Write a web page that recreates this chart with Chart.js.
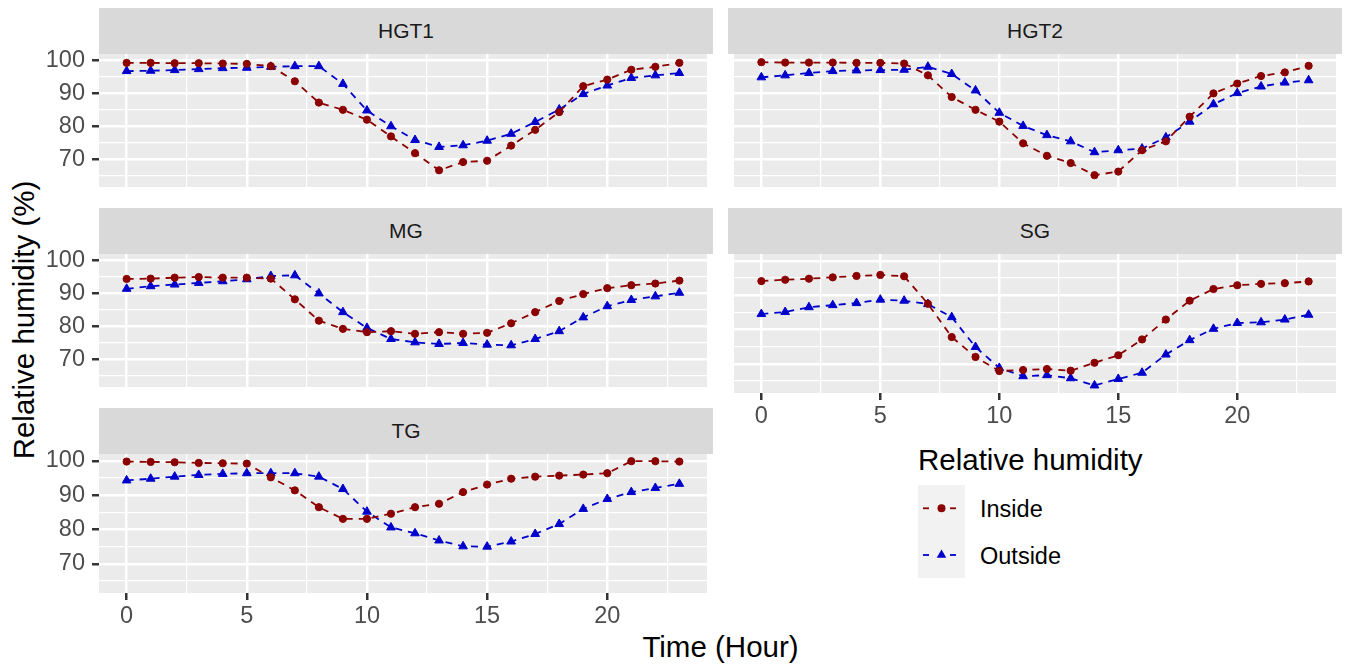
<!DOCTYPE html>
<html>
<head>
<meta charset="utf-8">
<script src="https://cdn.jsdelivr.net/npm/chart.js"></script>
<style>
  body { margin: 0; background: #fff; width: 1346px; height: 664px; overflow: hidden; position: relative;
         font-family: "Liberation Sans", Arial, sans-serif; }
  canvas { position: absolute; }
  .strip { position: absolute; background: #D9D9D9; color: #1A1A1A; font-size: 21px;
           display: flex; align-items: center; justify-content: center; }
  .txt { position: absolute; white-space: nowrap; color: #000; }
  .keys { position: absolute; background: #F2F2F2; }
</style>
</head>
<body>
<div class="txt" style="left:0; top:305px; width:48px; height:30px;">
  <div style="position:absolute; left:24px; top:15px; transform:translate(-50%,-50%) rotate(-90deg); font-size:29.5px; line-height:30px;">Relative humidity (%)</div>
</div>
<div class="txt" style="left:520px; top:632px; width:401px; text-align:center; font-size:29.5px; line-height:30px;">Time (Hour)</div>

<div class="txt" style="left:918px; top:445px; font-size:29.5px; line-height:30px;">Relative humidity</div>
<div class="keys" style="left:918px; top:485px; width:47px; height:93px;">
  <svg width="47" height="93">
    <line x1="5" y1="23.3" x2="11" y2="23.3" stroke="#8B0000" stroke-width="1.8"/>
    <line x1="32" y1="23.3" x2="38" y2="23.3" stroke="#8B0000" stroke-width="1.8"/>
    <circle cx="23.5" cy="23.3" r="4" fill="#8B0000"/>
    <line x1="5" y1="70" x2="11" y2="70" stroke="#0000CD" stroke-width="1.8"/>
    <line x1="32" y1="70" x2="38" y2="70" stroke="#0000CD" stroke-width="1.8"/>
    <polygon points="23.5,64.5 28.3,72.8 18.7,72.8" fill="#0000CD"/>
  </svg>
</div>
<div class="txt" style="left:980px; top:497px; font-size:23.5px; line-height:24px;">Inside</div>
<div class="txt" style="left:980px; top:544px; font-size:23.5px; line-height:24px;">Outside</div>

<script>
// hourly relative humidity (%) per greenhouse
const hours = [0, 1, 2, 3, 4, 5, 6, 7, 8, 9, 10, 11, 12, 13, 14, 15, 16, 17, 18, 19, 20, 21, 22, 23];

const hgt1Inside  = [99.3, 99.3, 99.2, 99.2, 99.1, 99.0, 98.3, 93.7, 87.2, 85.0, 82.0, 76.9, 71.8, 66.6, 69.1, 69.5, 74.1, 78.9, 84.3, 92.2, 94.2, 97.2, 98.1, 99.3];
const hgt1Outside = [96.8, 96.9, 97.1, 97.4, 97.7, 97.8, 98.1, 98.3, 98.3, 92.9, 84.8, 80.0, 75.8, 73.7, 74.2, 75.6, 77.7, 81.3, 85.1, 89.8, 92.4, 94.7, 95.5, 96.2];

const hgt2Inside  = [99.5, 99.4, 99.4, 99.4, 99.3, 99.3, 99.1, 95.5, 88.9, 85.0, 81.4, 74.8, 71.0, 68.8, 65.1, 66.2, 72.7, 75.4, 82.9, 90.0, 93.0, 95.3, 96.4, 98.4];
const hgt2Outside = [94.9, 95.5, 96.2, 96.8, 97.0, 97.1, 97.2, 98.1, 95.9, 90.9, 84.1, 80.1, 77.3, 75.4, 72.1, 72.7, 73.2, 76.6, 81.4, 86.7, 90.1, 92.1, 93.3, 94.0];

const mgInside  = [94.4, 94.5, 94.8, 95.0, 94.8, 94.8, 94.5, 88.2, 81.7, 79.2, 78.2, 78.5, 77.7, 78.2, 77.7, 78.0, 80.9, 84.3, 87.7, 89.8, 91.6, 92.5, 93.0, 93.9];
const mgOutside = [91.4, 92.2, 92.7, 93.2, 93.7, 94.3, 95.3, 95.5, 90.0, 84.3, 79.5, 76.1, 75.1, 74.6, 74.9, 74.4, 74.2, 76.1, 78.5, 82.7, 86.1, 88.0, 89.1, 90.2];

const sgInside  = [94.1, 94.5, 94.8, 95.2, 95.6, 95.9, 95.5, 87.5, 77.8, 72.0, 67.9, 68.2, 68.5, 68.0, 70.3, 72.5, 77.1, 82.9, 88.4, 91.8, 92.9, 93.3, 93.5, 94.0];
const sgOutside = [84.5, 85.1, 86.5, 87.1, 87.7, 88.7, 88.4, 87.4, 83.6, 74.9, 68.8, 66.4, 66.7, 65.8, 63.7, 65.6, 67.4, 72.7, 76.9, 80.2, 81.9, 82.1, 82.9, 84.3];

const tgInside  = [99.8, 99.7, 99.6, 99.4, 99.3, 99.2, 95.2, 91.4, 86.5, 83.1, 83.1, 84.6, 86.5, 87.5, 90.9, 93.1, 94.8, 95.4, 95.7, 96.0, 96.4, 99.9, 99.9, 99.8];
const tgOutside = [94.3, 94.8, 95.4, 95.9, 96.2, 96.4, 96.4, 96.4, 95.4, 91.8, 85.2, 80.6, 78.9, 76.8, 75.1, 75.0, 76.5, 78.7, 81.6, 86.0, 88.9, 90.9, 92.1, 93.3];

const xTickLabels = [0, 5, 10, 15, 20];
const yTickLabels = [70, 80, 90, 100];

const panels = [
    { name: 'HGT1', inside: hgt1Inside, outside: hgt1Outside, row: 0, col: 0, xAxis: false },
    { name: 'HGT2', inside: hgt2Inside, outside: hgt2Outside, row: 0, col: 1, xAxis: false },
    { name: 'MG',   inside: mgInside,   outside: mgOutside,   row: 1, col: 0, xAxis: false },
    { name: 'SG',   inside: sgInside,   outside: sgOutside,   row: 1, col: 1, xAxis: true },
    { name: 'TG',   inside: tgInside,   outside: tgOutside,   row: 2, col: 0, xAxis: true }
];

// layout (pixels)
const COL_X = [99, 728];
const PANEL_W = 614;
const STRIP_H = 46;
const PLOT_H = 139;
const ROW_PITCH = 200;
const TOP0 = 8;
const PAD_TOP = 20;
const X_AXIS_H = 45;
const FONT = '"Liberation Sans", Arial, sans-serif';

const panelBg = {
    id: 'panelBg',
    beforeDraw(chart) {
        const a = chart.chartArea;
        const ctx = chart.ctx;
        ctx.save();
        ctx.fillStyle = '#EBEBEB';
        ctx.fillRect(a.left, a.top, a.right - a.left, a.bottom - a.top);
        ctx.restore();
    }
};

const isMajor = (v, step) => Math.abs(v / step - Math.round(v / step)) < 1e-6;

panels.forEach(p => {
    const stripTop = TOP0 + p.row * ROW_PITCH;
    const plotTop = stripTop + STRIP_H;

    const strip = document.createElement('div');
    strip.className = 'strip';
    strip.style.left = COL_X[p.col] + 'px';
    strip.style.top = stripTop + 'px';
    strip.style.width = PANEL_W + 'px';
    strip.style.height = STRIP_H + 'px';
    strip.textContent = p.name;
    document.body.appendChild(strip);

    const yAxisW = p.col === 0 ? COL_X[0] : 0;
    const canvas = document.createElement('canvas');
    const cw = yAxisW + PANEL_W;
    const ch = PAD_TOP + PLOT_H + (p.xAxis ? X_AXIS_H : 0);
    canvas.width = cw;
    canvas.height = ch;
    canvas.style.width = cw + 'px';
    canvas.style.height = ch + 'px';
    canvas.style.left = (COL_X[p.col] - yAxisW) + 'px';
    canvas.style.top = (plotTop - PAD_TOP) + 'px';
    document.body.appendChild(canvas);

    new Chart(canvas.getContext('2d'), {
        type: 'line',
        data: {
            datasets: [
                {
                    label: 'Inside',
                    data: hours.map((h, i) => ({ x: h, y: p.inside[i] })),
                    borderColor: '#8B0000',
                    backgroundColor: '#8B0000',
                    borderWidth: 1.8,
                    borderDash: [7, 6],
                    pointStyle: 'circle',
                    pointRadius: 3.6,
                    pointBorderWidth: 1,
                    tension: 0
                },
                {
                    label: 'Outside',
                    data: hours.map((h, i) => ({ x: h, y: p.outside[i] })),
                    borderColor: '#0000CD',
                    backgroundColor: '#0000CD',
                    borderWidth: 1.8,
                    borderDash: [7, 6],
                    pointStyle: 'triangle',
                    pointRadius: 5,
                    pointBorderWidth: 1,
                    tension: 0
                }
            ]
        },
        options: {
            responsive: false,
            animation: false,
            devicePixelRatio: 1,
            layout: { padding: { top: PAD_TOP, left: 0, right: 0, bottom: 0 } },
            plugins: { legend: { display: false }, tooltip: { enabled: false } },
            scales: {
                x: {
                    type: 'linear',
                    min: -1.15,
                    max: 24.15,
                    border: { display: false },
                    grid: {
                        color: '#FFFFFF',
                        lineWidth: c => (c.tick && isMajor(c.tick.value, 5)) ? 2.5 : 1.2,
                        drawTicks: p.xAxis,
                        tickLength: 7,
                        tickWidth: 2.5,
                        tickColor: c => (c.tick && isMajor(c.tick.value, 5)) ? '#333333' : 'rgba(0,0,0,0)'
                    },
                    ticks: {
                        display: p.xAxis,
                        stepSize: 2.5,
                        includeBounds: false,
                        autoSkip: false,
                        maxRotation: 0,
                        padding: 2,
                        color: '#4D4D4D',
                        font: { family: FONT, size: 23.5 },
                        callback: v => xTickLabels.includes(v) ? String(v) : ''
                    },
                    afterFit: s => {
                        s.height = p.xAxis ? X_AXIS_H : 0;
                        s.paddingLeft = 0; s.paddingRight = 0;
                    }
                },
                y: {
                    type: 'linear',
                    min: 61.5,
                    max: 102,
                    border: { display: false },
                    grid: {
                        color: '#FFFFFF',
                        lineWidth: c => (c.tick && isMajor(c.tick.value, 10)) ? 2.5 : 1.2,
                        drawTicks: p.col === 0,
                        tickLength: 7,
                        tickWidth: 2.5,
                        tickColor: c => (c.tick && isMajor(c.tick.value, 10)) ? '#333333' : 'rgba(0,0,0,0)'
                    },
                    ticks: {
                        display: p.col === 0,
                        stepSize: 5,
                        includeBounds: false,
                        autoSkip: false,
                        padding: 7,
                        color: '#4D4D4D',
                        font: { family: FONT, size: 23.5 },
                        callback: v => yTickLabels.includes(v) ? String(v) : ''
                    },
                    afterFit: s => {
                        s.width = yAxisW;
                        s.paddingTop = 0; s.paddingBottom = 0;
                    }
                }
            }
        },
        plugins: [panelBg]
    });
});
</script>
</body>
</html>
